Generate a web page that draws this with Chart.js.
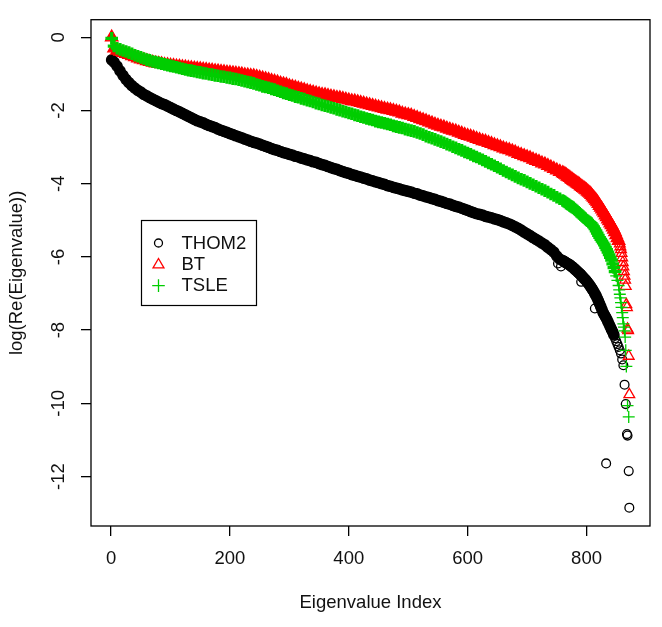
<!DOCTYPE html>
<html>
<head>
<meta charset="utf-8">
<title>Eigenvalue spectrum</title>
<script src="https://cdn.jsdelivr.net/npm/chart.js@4.4.0/dist/chart.umd.min.js"></script>
<style>
  html, body { margin: 0; padding: 0; background: #fff; }
  #wrap { width: 662px; height: 627px; }
</style>
</head>
<body>
<div id="wrap"><canvas id="eig" width="662" height="627"></canvas></div>
<script>
// ==================== data ====================

const xTicks = [0, 200, 400, 600, 800]
const yTicks = [-12, -10, -8, -6, -4, -2, 0]

// eigenvalue index, sampled through the smooth part of the curves
const bulkIdx = [
  1, 5, 10, 15, 20, 25, 30, 35, 40, 45, 50, 55, 60, 65, 70, 75, 80, 85, 90, 95,
  100, 105, 110, 115, 120, 125, 130, 135, 140, 145, 150, 155, 160, 165, 170, 175, 180, 185, 190, 195,
  200, 205, 210, 215, 220, 225, 230, 235, 240, 245, 250, 255, 260, 265, 270, 275, 280, 285, 290, 295,
  300, 305, 310, 315, 320, 325, 330, 335, 340, 345, 350, 355, 360, 365, 370, 375, 380, 385, 390, 395,
  400, 405, 410, 415, 420, 425, 430, 435, 440, 445, 450, 455, 460, 465, 470, 475, 480, 485, 490, 495,
  500, 505, 510, 515, 520, 525, 530, 535, 540, 545, 550, 555, 560, 565, 570, 575, 580, 585, 590, 595,
  600, 605, 610, 615, 620, 625, 630, 635, 640, 645, 650, 655, 660, 665, 670, 675, 680, 685, 690, 695,
  700, 705, 710, 715, 720, 725, 730, 735, 740, 745, 750, 755, 760
]

const thomBulk = [
  -0.62, -0.68, -0.79, -0.92, -1.04, -1.15, -1.24, -1.32, -1.39, -1.45, -1.50, -1.56, -1.60, -1.65, -1.69, -1.73, -1.77, -1.81, -1.84, -1.88,
  -1.92, -1.96, -2.00, -2.04, -2.08, -2.12, -2.16, -2.20, -2.24, -2.28, -2.31, -2.34, -2.38, -2.41, -2.44, -2.47, -2.51, -2.54, -2.57, -2.60,
  -2.63, -2.66, -2.69, -2.72, -2.75, -2.78, -2.81, -2.84, -2.87, -2.89, -2.92, -2.95, -2.98, -3.01, -3.04, -3.07, -3.09, -3.12, -3.15, -3.17,
  -3.20, -3.22, -3.25, -3.27, -3.30, -3.32, -3.35, -3.37, -3.40, -3.42, -3.45, -3.48, -3.50, -3.53, -3.56, -3.59, -3.61, -3.64, -3.67, -3.70,
  -3.72, -3.75, -3.77, -3.80, -3.82, -3.85, -3.87, -3.90, -3.92, -3.95, -3.97, -4.00, -4.02, -4.05, -4.07, -4.10, -4.12, -4.14, -4.17, -4.19,
  -4.21, -4.23, -4.26, -4.28, -4.31, -4.33, -4.36, -4.38, -4.41, -4.43, -4.46, -4.48, -4.51, -4.54, -4.56, -4.59, -4.62, -4.64, -4.67, -4.70,
  -4.73, -4.76, -4.79, -4.82, -4.84, -4.86, -4.89, -4.91, -4.93, -4.96, -4.98, -5.01, -5.04, -5.07, -5.10, -5.14, -5.18, -5.22, -5.27, -5.32,
  -5.37, -5.42, -5.47, -5.52, -5.57, -5.62, -5.67, -5.74, -5.80, -5.87, -5.98, -6.06, -6.10
]

const btBulk = [
  0.00, -0.30, -0.36, -0.39, -0.42, -0.45, -0.48, -0.51, -0.54, -0.57, -0.60, -0.62, -0.65, -0.67, -0.69, -0.71, -0.72, -0.73, -0.75, -0.76,
  -0.77, -0.78, -0.79, -0.80, -0.81, -0.82, -0.83, -0.84, -0.85, -0.86, -0.87, -0.88, -0.89, -0.90, -0.91, -0.92, -0.93, -0.94, -0.95, -0.96,
  -0.97, -0.98, -0.99, -1.00, -1.01, -1.03, -1.04, -1.05, -1.06, -1.08, -1.10, -1.12, -1.14, -1.16, -1.19, -1.21, -1.23, -1.26, -1.28, -1.30,
  -1.33, -1.35, -1.37, -1.40, -1.42, -1.44, -1.47, -1.49, -1.51, -1.53, -1.55, -1.57, -1.58, -1.60, -1.62, -1.63, -1.65, -1.66, -1.68, -1.70,
  -1.72, -1.74, -1.75, -1.77, -1.79, -1.81, -1.83, -1.85, -1.87, -1.89, -1.91, -1.93, -1.95, -1.97, -1.99, -2.01, -2.03, -2.05, -2.08, -2.10,
  -2.12, -2.14, -2.17, -2.20, -2.23, -2.26, -2.29, -2.32, -2.35, -2.38, -2.41, -2.44, -2.46, -2.49, -2.52, -2.55, -2.57, -2.60, -2.63, -2.66,
  -2.69, -2.71, -2.74, -2.77, -2.80, -2.83, -2.85, -2.88, -2.91, -2.94, -2.97, -3.00, -3.03, -3.06, -3.08, -3.11, -3.14, -3.18, -3.21, -3.24,
  -3.27, -3.30, -3.34, -3.37, -3.40, -3.44, -3.47, -3.51, -3.55, -3.59, -3.63, -3.67, -3.71
]

const tsleBulk = [
  -0.03, -0.24, -0.30, -0.33, -0.36, -0.39, -0.42, -0.45, -0.49, -0.52, -0.55, -0.58, -0.61, -0.63, -0.66, -0.68, -0.70, -0.72, -0.74, -0.76,
  -0.78, -0.80, -0.82, -0.84, -0.86, -0.88, -0.90, -0.91, -0.93, -0.95, -0.96, -0.98, -0.99, -1.01, -1.02, -1.04, -1.05, -1.07, -1.08, -1.10,
  -1.11, -1.13, -1.14, -1.16, -1.18, -1.20, -1.22, -1.24, -1.26, -1.29, -1.31, -1.34, -1.36, -1.38, -1.41, -1.43, -1.46, -1.49, -1.52, -1.54,
  -1.57, -1.59, -1.62, -1.64, -1.67, -1.69, -1.72, -1.74, -1.77, -1.80, -1.82, -1.85, -1.87, -1.89, -1.92, -1.94, -1.97, -1.99, -2.02, -2.04,
  -2.07, -2.09, -2.12, -2.14, -2.17, -2.19, -2.22, -2.24, -2.26, -2.29, -2.31, -2.33, -2.35, -2.37, -2.39, -2.42, -2.44, -2.46, -2.48, -2.51,
  -2.53, -2.55, -2.57, -2.60, -2.63, -2.66, -2.70, -2.73, -2.76, -2.79, -2.82, -2.85, -2.88, -2.92, -2.95, -2.99, -3.02, -3.06, -3.09, -3.13,
  -3.16, -3.20, -3.24, -3.27, -3.31, -3.35, -3.39, -3.43, -3.47, -3.51, -3.55, -3.59, -3.64, -3.68, -3.72, -3.76, -3.80, -3.84, -3.88, -3.91,
  -3.95, -3.99, -4.03, -4.07, -4.11, -4.15, -4.19, -4.23, -4.28, -4.32, -4.37, -4.41, -4.46
]

// the steep end of each spectrum: [index, value]
const thomTail = [
  [762, -6.12], [764, -6.14], [766, -6.16], [768, -6.18], [770, -6.20], [772, -6.22],
  [774, -6.25], [776, -6.27], [778, -6.30], [780, -6.33], [782, -6.36], [784, -6.39], [786, -6.42], [788, -6.45],
  [790, -6.48], [792, -6.52], [794, -6.55], [796, -6.59], [798, -6.62], [800, -6.66], [802, -6.70],
  [804, -6.74], [806, -6.79], [808, -6.84], [810, -6.89], [812, -6.94], [814, -7.00], [816, -7.06],
  [818, -7.13], [820, -7.20], [822, -7.28], [824, -7.36], [826, -7.44], [828, -7.52], [830, -7.58], [832, -7.64],
  [834, -7.70], [836, -7.77], [838, -7.84], [840, -7.91], [842, -7.98], [844, -8.05], [846, -8.13],
  [848, -8.22], [850, -8.30], [852, -8.38], [854, -8.46], [856, -8.55], [858, -8.64], [860, -8.80], [862, -8.96],
  [864, -9.49], [866, -10.02], [868, -10.84], [869, -10.88], [871, -11.85], [872, -12.85]
]

// THOM2 points lying off the band
const thomStray = [[752, -6.18], [757, -6.26], [791, -6.68], [814, -7.41], [833, -11.64]]

const btTail = [
  [762, -3.73], [764, -3.75], [766, -3.77], [768, -3.80], [770, -3.82], [772, -3.84], [774, -3.87], [776, -3.89],
  [778, -3.92], [780, -3.94], [782, -3.96], [784, -3.99], [786, -4.01], [788, -4.03], [790, -4.06], [792, -4.08],
  [794, -4.11], [796, -4.13], [798, -4.16], [800, -4.18], [802, -4.21], [804, -4.24], [806, -4.27], [808, -4.30],
  [810, -4.34], [812, -4.38], [814, -4.42], [816, -4.46], [818, -4.50], [820, -4.55], [822, -4.60], [824, -4.65],
  [826, -4.70], [828, -4.75], [830, -4.80], [832, -4.86], [834, -4.91], [836, -4.97], [838, -5.02], [840, -5.08],
  [842, -5.13], [844, -5.19], [846, -5.25], [848, -5.32], [850, -5.40], [852, -5.48], [854, -5.56], [856, -5.64],
  [857, -5.72], [858, -5.80], [859, -5.90], [860, -6.02], [861, -6.15], [862, -6.27], [863, -6.40], [864, -6.52],
  [865, -6.63], [866, -6.80], [867, -7.30], [868, -7.38], [869, -7.97], [870, -8.01], [871, -8.71], [872, -9.76]
]

const tsleTail = [
  [762, -4.48], [764, -4.50], [766, -4.53], [768, -4.55], [770, -4.57], [772, -4.60], [774, -4.62], [776, -4.64],
  [778, -4.66], [780, -4.69], [782, -4.72], [784, -4.75], [786, -4.78], [788, -4.81], [790, -4.84], [792, -4.87],
  [794, -4.90], [796, -4.93], [798, -4.96], [800, -4.99], [802, -5.01], [804, -5.04], [806, -5.06], [808, -5.09],
  [810, -5.13], [812, -5.18], [814, -5.23], [816, -5.29], [818, -5.35], [820, -5.41], [822, -5.47], [824, -5.52],
  [826, -5.57], [828, -5.62], [830, -5.67], [832, -5.74], [834, -5.80], [836, -5.87], [838, -5.94], [840, -6.01],
  [842, -6.09], [844, -6.19], [846, -6.29], [848, -6.40], [850, -6.52], [852, -6.64], [854, -6.78], [855, -6.90],
  [856, -7.02], [857, -7.12], [858, -7.25], [859, -7.38], [860, -7.52], [861, -7.66], [862, -7.83], [863, -7.92],
  [864, -8.02], [865, -8.19], [866, -8.55], [867, -8.99], [869, -10.06], [871, -10.37]
]

// ==================== style ====================

const COLORS = {
  thom: '#000000',
  bt: '#ff0000',
  tsle: '#00cd00',
  ink: '#111111'
}

const FONT_FAMILY = '"Liberation Sans", Arial, Helvetica, sans-serif'
const FONT_SIZE = 18.5

// dense* = the overplotted band (R draws one symbol per index there, so it reads as solid)
const SERIES = [
  { label: 'THOM2', style: 'circle', radius: 4.4, denseRadius: 5.2, denseWidth: 1.3, denseFill: true, denseUntil: 846, color: COLORS.thom },
  { label: 'BT', style: 'triangle', radius: 6.2, denseRadius: 7.2, denseWidth: 1.3, denseFill: true, denseUntil: 855, color: COLORS.bt },
  { label: 'TSLE', style: 'cross', radius: 6, denseRadius: 6.3, denseWidth: 3.2, denseFill: false, denseUntil: 848, color: COLORS.tsle }
]

function toPoints(idx, vals, tail, stray = []) {
  const pts = idx.map((x, i) => ({ x, y: vals[i] }))
  tail.forEach(([x, y]) => pts.push({ x, y }))
  stray.forEach(([x, y]) => pts.push({ x, y, stray: true }))
  return pts
}

/**
 * R style open symbols for the legend
 */
function drawSymbol(ctx, style, x, y, r) {
  ctx.beginPath()
  if (style === 'circle') {
    ctx.arc(x, y, r, 0, Math.PI * 2)
  } else if (style === 'triangle') {
    ctx.moveTo(x, y - r)
    ctx.lineTo(x + r * 0.866, y + r * 0.5)
    ctx.lineTo(x - r * 0.866, y + r * 0.5)
    ctx.closePath()
  } else {
    ctx.moveTo(x - r, y)
    ctx.lineTo(x + r, y)
    ctx.moveTo(x, y - r)
    ctx.lineTo(x, y + r)
  }
  ctx.stroke()
}

// box round the plot region plus the legend placed at (50, -5) in data units
const rFrame = {
  id: 'rFrame',
  afterDatasetsDraw(chart) {
    const { ctx, chartArea: a, scales } = chart
    ctx.save()
    ctx.strokeStyle = '#000'
    ctx.lineWidth = 1.3
    ctx.strokeRect(a.left, a.top, a.right - a.left, a.bottom - a.top)

    const lx = Math.round(scales.x.getPixelForValue(50)) + 0.5
    const ly = Math.round(scales.y.getPixelForValue(-5)) + 0.5
    ctx.fillStyle = '#fff'
    ctx.fillRect(lx, ly, 115, 85)
    ctx.lineWidth = 1.2
    ctx.strokeRect(lx, ly, 115, 85)

    ctx.font = `${FONT_SIZE}px ${FONT_FAMILY}`
    ctx.textBaseline = 'middle'
    ctx.textAlign = 'left'
    SERIES.forEach((s, i) => {
      const rowY = ly + 22.5 + i * 20.8
      ctx.strokeStyle = s.color
      ctx.lineWidth = 1.3
      drawSymbol(ctx, s.style, lx + 17, rowY + (s.style === 'circle' ? 0 : 1), s.style === 'circle' ? 4 : 6.3)
      ctx.fillStyle = COLORS.ink
      ctx.fillText(s.label, lx + 40, rowY + 1)
    })
    ctx.restore()
  }
}

// ==================== chart ====================

Chart.defaults.font.family = FONT_FAMILY
Chart.defaults.font.size = FONT_SIZE
Chart.defaults.color = COLORS.ink

const seriesData = [
  toPoints(bulkIdx, thomBulk, thomTail, thomStray),
  toPoints(bulkIdx, btBulk, btTail),
  toPoints(bulkIdx, tsleBulk, tsleTail)
]

new Chart(document.getElementById('eig'), {
  type: 'scatter',
  data: {
    datasets: SERIES.map((s, i) => {
      const dense = c => !!(c.raw && !c.raw.stray && c.raw.x <= s.denseUntil)
      return {
        label: s.label,
        data: seriesData[i],
        pointStyle: s.style,
        pointRadius: c => dense(c) ? s.denseRadius : s.radius,
        pointBorderColor: s.color,
        pointBackgroundColor: c => dense(c) && s.denseFill ? s.color : 'rgba(0,0,0,0)',
        pointBorderWidth: c => dense(c) ? s.denseWidth : 1.3,
        borderColor: s.color,
        backgroundColor: 'rgba(0,0,0,0)',
        showLine: false,
        order: 3 - i
      }
    })
  },
  options: {
    responsive: false,
    animation: false,
    events: [],
    layout: { padding: { top: 9, right: 12, bottom: 0, left: 0 } },
    plugins: {
      legend: { display: false },
      tooltip: { enabled: false }
    },
    scales: {
      x: {
        type: 'linear',
        position: 'bottom',
        min: -33.8,
        max: 906.8,
        afterBuildTicks: s => { s.ticks = xTicks.map(v => ({ value: v })) },
        afterFit: s => { s.height = 101 },
        grid: { drawOnChartArea: false, drawTicks: true, tickLength: 10, color: '#000', lineWidth: 1.3 },
        border: { display: false },
        ticks: { padding: 12, maxRotation: 0, autoSkip: false, color: COLORS.ink, callback: v => String(v) },
        title: { display: true, text: 'Eigenvalue Index', color: COLORS.ink, padding: { top: 0, bottom: 13 } }
      },
      y: {
        type: 'linear',
        position: 'left',
        min: -13.35,
        max: 0.48,
        afterBuildTicks: s => { s.ticks = yTicks.map(v => ({ value: v })) },
        afterFit: s => { s.width = 91 },
        grid: { drawOnChartArea: false, drawTicks: true, tickLength: 10, color: '#000', lineWidth: 1.3 },
        border: { display: false },
        ticks: {
          padding: 8.6,
          minRotation: 90,
          maxRotation: 90,
          crossAlign: 'center',
          autoSkip: false,
          color: COLORS.ink,
          callback: v => String(v)
        },
        title: { display: true, text: 'log(Re(Eigenvalue))', color: COLORS.ink, padding: { top: 6, bottom: 0 } }
      }
    }
  },
  plugins: [rFrame]
})
</script>
</body>
</html>
